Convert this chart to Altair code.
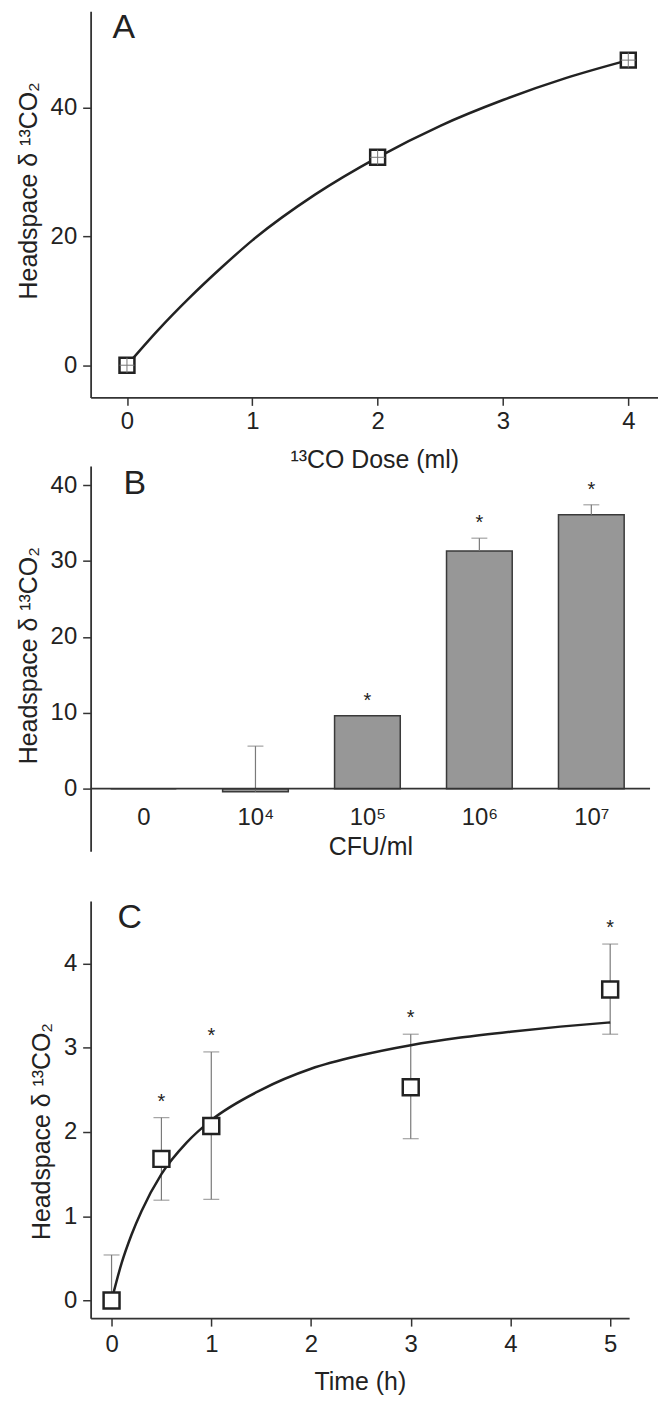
import json
import altair as alt
import pandas as pd

FONT = "Liberation Sans"
INK = "#222222"
AXIS = "#333333"
ERR = "#7a7a7a"

# ---------------- Panel A : dose response ----------------
dose_ml = [0, 2, 4]
dose_delta = [0.0, 32.3, 47.4]
dose_curve_x = [0, 0.25, 0.5, 0.75, 1.0, 1.5, 2.0, 2.5, 3.0, 3.5, 4.0]
dose_curve_y = [0, 5.5, 10.5, 15.1, 19.4, 26.5, 32.3, 37.2, 41.2, 44.6, 47.4]

# ---------------- Panel B : CFU/ml ----------------
cfu_labels = ["0", "10⁴", "10⁵", "10⁶", "10⁷"]
cfu_delta = [0.0, -0.4, 9.6, 31.3, 36.1]
cfu_err_top = [None, 5.6, None, 33.0, 37.4]
cfu_sig = [False, False, True, True, True]

# ---------------- Panel C : time course ----------------
time_h = [0, 0.5, 1, 3, 5]
time_delta = [0.0, 1.68, 2.07, 2.53, 3.69]
time_err_lo = [0.0, 1.19, 1.20, 1.92, 3.16]
time_err_hi = [0.54, 2.17, 2.95, 3.16, 4.23]
time_sig = [False, True, True, True, True]
time_curve_x = [0, 0.1, 0.2, 0.3, 0.5, 0.75, 1.0, 1.5, 2.0, 2.5, 3.0, 3.5, 4.0, 4.5, 5.0]
time_curve_y = [0, 0.44, 0.78, 1.06, 1.50, 1.87, 2.14, 2.50, 2.75, 2.91, 3.03, 3.12, 3.19, 3.25, 3.30]

YTITLE = "Headspace δ ¹³CO₂"


def letter(t, dx, dy):
    return alt.Chart(pd.DataFrame({"t": [t]})).mark_text(
        align="left", baseline="top", fontSize=34, font=FONT, color=INK
    ).encode(x=alt.value(dx), y=alt.value(dy), text="t:N")


# ---- A ----
dfA = pd.DataFrame({"x": dose_ml, "y": dose_delta})
dfAc = pd.DataFrame({"x": dose_curve_x, "y": dose_curve_y})
xA = alt.X("x:Q", scale=alt.Scale(domain=[-0.29, 4.237], nice=False, zero=False),
           axis=alt.Axis(values=[0, 1, 2, 3, 4], format="d", title="¹³CO Dose (ml)",
                         labelPadding=4, titlePadding=14))
yA = alt.Y("y:Q", scale=alt.Scale(domain=[-5, 55], nice=False, zero=False),
           axis=alt.Axis(values=[0, 20, 40], title=YTITLE, titleY=180))
lineA = alt.Chart(dfAc).mark_line(color=INK, strokeWidth=2.5, interpolate="monotone").encode(x=xA, y=yA)
ptsA = alt.Chart(dfA).mark_point(shape="square", size=225, filled=True, fill="white",
                                 stroke=INK, strokeWidth=2.5, opacity=1).encode(x=xA, y=yA)
crossA = alt.Chart(dfA).mark_point(shape="M-1,0L1,0M0,-1L0,1", size=225, stroke="#777777",
                                   strokeWidth=1, opacity=1).encode(x=xA, y=yA)
chartA = alt.layer(lineA, ptsA, crossA, letter("A", 22, 0)).properties(width=570, height=388)

# ---- B ----
dfB = pd.DataFrame({"i": list(range(len(cfu_labels))), "y": cfu_delta,
                    "e": cfu_err_top, "sig": cfu_sig})
dfB["top"] = [e if e is not None and e == e else v for e, v in zip(dfB["e"], dfB["y"])]
label_expr = json.dumps(cfu_labels) + "[datum.value]"
xB = alt.X("i:Q", scale=alt.Scale(domain=[-0.428, 4.48], nice=False, zero=False),
           axis=alt.Axis(values=list(range(len(cfu_labels))), labelExpr=label_expr, title="CFU/ml",
                         domain=False, ticks=False, tickSize=0, offset=-63, labelPadding=17,
                         titlePadding=5))
yB = alt.Y("y:Q", scale=alt.Scale(domain=[-8.26, 42.5], nice=False, zero=False),
           axis=alt.Axis(values=[0, 10, 20, 30, 40], title=YTITLE, titleY=190))
barsB = alt.Chart(dfB).mark_bar(width=66, fill="#979797", stroke="#3a3a3a", strokeWidth=1.5).encode(
    x=xB, y=yB, y2=alt.datum(0))
errB_df = dfB.dropna(subset=["e"])
errB = alt.Chart(errB_df).mark_rule(color=ERR, strokeWidth=1.2).encode(
    x="i:Q", y="y:Q", y2="e:Q")
capB = alt.Chart(errB_df).mark_tick(color=ERR, thickness=1.2, size=16, orient="horizontal").encode(
    x="i:Q", y="e:Q")
zeroB = alt.Chart(pd.DataFrame({"z": [0]})).mark_rule(color=AXIS, strokeWidth=1.8).encode(y="z:Q")
starB = alt.Chart(dfB[dfB["sig"]]).mark_text(text="*", fontSize=20, font=FONT, color=INK,
                                             baseline="alphabetic", dy=-9).encode(x="i:Q", y="top:Q")
chartB = alt.layer(barsB, errB, capB, zeroB, starB, letter("B", 33, 1)).properties(width=562, height=387)

# ---- C ----
dfC = pd.DataFrame({"x": time_h, "y": time_delta, "lo": time_err_lo, "hi": time_err_hi, "sig": time_sig})
dfCc = pd.DataFrame({"x": time_curve_x, "y": time_curve_y})
xC = alt.X("x:Q", scale=alt.Scale(domain=[-0.21, 5.19], nice=False, zero=False),
           axis=alt.Axis(values=[0, 1, 2, 3, 4, 5], format="d", title="Time (h)",
                         labelPadding=6, titlePadding=14))
yC = alt.Y("y:Q", scale=alt.Scale(domain=[-0.21, 4.74], nice=False, zero=False),
           axis=alt.Axis(values=[0, 1, 2, 3, 4], format="d", title=YTITLE, titleY=231))
errC = alt.Chart(dfC).mark_rule(color=ERR, strokeWidth=1.2).encode(x="x:Q", y="lo:Q", y2="hi:Q")
capHiC = alt.Chart(dfC).mark_tick(color=ERR, thickness=1.2, size=16, orient="horizontal").encode(
    x="x:Q", y="hi:Q")
capLoC = alt.Chart(dfC).mark_tick(color=ERR, thickness=1.2, size=16, orient="horizontal").encode(
    x="x:Q", y="lo:Q")
lineC = alt.Chart(dfCc).mark_line(color=INK, strokeWidth=2.5, interpolate="monotone").encode(x=xC, y=yC)
ptsC = alt.Chart(dfC).mark_point(shape="square", size=256, filled=True, fill="white",
                                 stroke=INK, strokeWidth=2.5, opacity=1).encode(x=xC, y=yC)
starC = alt.Chart(dfC[dfC["sig"]]).mark_text(text="*", fontSize=20, font=FONT, color=INK,
                                             baseline="alphabetic", dy=-10).encode(x="x:Q", y="hi:Q")
chartC = alt.layer(errC, capHiC, capLoC, lineC, ptsC, starC, letter("C", 27, 0)).properties(
    width=541, height=419)

lower = alt.vconcat(chartB, chartC, spacing=50, bounds="flush")
chart = alt.vconcat(chartA, lower, spacing=69, bounds="flush").properties(
    padding={"left": 8, "top": 0, "right": 0, "bottom": 0}
).configure(font=FONT).configure_view(stroke=None).configure_axis(
    grid=False, labelFont=FONT, titleFont=FONT, labelFontSize=24, titleFontSize=25,
    titleFontWeight="normal", labelColor=INK, titleColor=INK, domainColor=AXIS,
    domainWidth=1.8, tickColor=AXIS, tickWidth=1.5, tickSize=8
).configure_axisY(labelPadding=6, titlePadding=9)

chart.save("out.html", embed_options={"renderer": "svg", "actions": False})
